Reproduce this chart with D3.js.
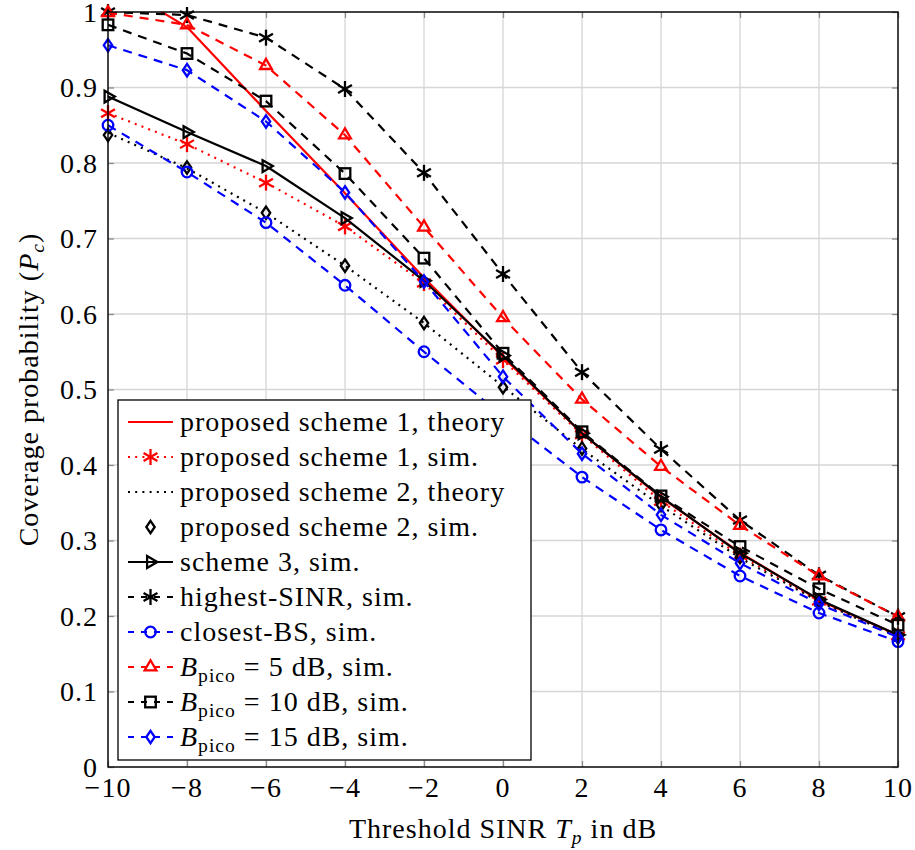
<!DOCTYPE html>
<html>
<head>
<meta charset="utf-8">
<script src="https://cdn.jsdelivr.net/npm/d3@7"></script>
<style>
  html, body { margin: 0; padding: 0; background: #fff; }
  text { font-family: "Liberation Serif", "DejaVu Serif", "Noto Serif", "Tinos", "FreeSerif", "Times", serif; }
</style>
</head>
<body>
<svg id="chart" width="915" height="850"></svg>
<script>
// ---- data ----
const xValues = [-10, -8, -6, -4, -2, 0, 2, 4, 6, 8, 10];
const xTicks = [-10, -8, -6, -4, -2, 0, 2, 4, 6, 8, 10];
const yTicks = [0, 0.1, 0.2, 0.3, 0.4, 0.5, 0.6, 0.7, 0.8, 0.9, 1];
const yTickLabels = ["0", "0.1", "0.2", "0.3", "0.4", "0.5", "0.6", "0.7", "0.8", "0.9", "1"];

const scheme1Theory = [1.043, 0.980, 0.869, 0.760, 0.648, 0.543, 0.442, 0.357, 0.284, 0.221, 0.175];
const scheme1Sim    = [0.866, 0.825, 0.774, 0.716, 0.641, 0.539, 0.440, 0.352, 0.280, 0.220, 0.174];
const scheme2Theory = [0.840, 0.793, 0.734, 0.664, 0.588, 0.504, 0.421, 0.346, 0.277, 0.219, 0.173];
const scheme2Sim    = [0.837, 0.794, 0.734, 0.664, 0.588, 0.503, 0.422, 0.347, 0.278, 0.219, 0.172];
const scheme3Sim    = [0.888, 0.841, 0.796, 0.727, 0.644, 0.545, 0.442, 0.358, 0.283, 0.222, 0.175];
const highestSinr   = [1.000, 0.996, 0.966, 0.898, 0.787, 0.653, 0.523, 0.421, 0.327, 0.254, 0.199];
const closestBs     = [0.850, 0.788, 0.721, 0.638, 0.550, 0.465, 0.384, 0.314, 0.253, 0.204, 0.166];
const bPico5        = [0.999, 0.983, 0.929, 0.837, 0.715, 0.595, 0.487, 0.398, 0.320, 0.253, 0.199];
const bPico10       = [0.983, 0.945, 0.882, 0.786, 0.674, 0.548, 0.444, 0.359, 0.292, 0.236, 0.188];
const bPico15       = [0.956, 0.923, 0.855, 0.761, 0.643, 0.517, 0.415, 0.334, 0.270, 0.216, 0.172];

const seriesNames = [
  "proposed scheme 1, theory", "proposed scheme 1, sim.", "proposed scheme 2, theory",
  "proposed scheme 2, sim.", "scheme 3, sim.", "highest-SINR, sim.", "closest-BS, sim.",
  "B|pico| = 5 dB, sim.", "B|pico| = 10 dB, sim.", "B|pico| = 15 dB, sim."
];

// ---- layout ----
const m = { left: 108, right: 898, top: 12, bottom: 767 };
const svg = d3.select("#chart");
const LS = 1.0; // letter spacing to approximate the wider original face
const x = d3.scaleLinear().domain([-10, 10]).range([m.left, m.right]);
const y = d3.scaleLinear().domain([0, 1]).range([m.bottom, m.top]);

const RED = "#ff0000", BLUE = "#0000ff", BLACK = "#000000";
const DASH = "9,7", DOT = "2,5.2";
const series = [
  { values: scheme1Theory, color: RED,   dash: null, line: true,  marker: null },
  { values: scheme1Sim,    color: RED,   dash: DOT,  line: true,  marker: "asterisk" },
  { values: scheme2Theory, color: BLACK, dash: DOT,  line: true,  marker: null },
  { values: scheme2Sim,    color: BLACK, dash: null, line: false, marker: "diamond" },
  { values: scheme3Sim,    color: BLACK, dash: null, line: true,  marker: "triright" },
  { values: highestSinr,   color: BLACK, dash: DASH, line: true,  marker: "asterisk" },
  { values: closestBs,     color: BLUE,  dash: DASH, line: true,  marker: "circle" },
  { values: bPico5,        color: RED,   dash: DASH, line: true,  marker: "triangle" },
  { values: bPico10,       color: BLACK, dash: DASH, line: true,  marker: "square" },
  { values: bPico15,       color: BLUE,  dash: DASH, line: true,  marker: "diamond" }
];

// clip
svg.append("defs").append("clipPath").attr("id", "plotclip")
  .append("rect").attr("x", m.left).attr("y", m.top)
  .attr("width", m.right - m.left).attr("height", m.bottom - m.top);

// grid
const grid = svg.append("g");
grid.selectAll("line.gx").data(xTicks).join("line")
  .attr("x1", d => x(d)).attr("x2", d => x(d)).attr("y1", m.top).attr("y2", m.bottom)
  .attr("stroke", "#d6d6d6").attr("stroke-width", 1.3);
grid.selectAll("line.gy").data(yTicks).join("line")
  .attr("y1", d => y(d)).attr("y2", d => y(d)).attr("x1", m.left).attr("x2", m.right)
  .attr("stroke", "#d6d6d6").attr("stroke-width", 1.3);

// axes with inner ticks on all sides
const tl = 6;
const axB = d3.axisBottom(x).tickValues(xTicks).tickSize(-tl).tickFormat("");
const axT = d3.axisTop(x).tickValues(xTicks).tickSize(-tl).tickFormat("");
const axL = d3.axisLeft(y).tickValues(yTicks).tickSize(-tl).tickFormat("");
const axR = d3.axisRight(y).tickValues(yTicks).tickSize(-tl).tickFormat("");
function styleAxis(g) {
  g.select(".domain").remove();
  g.selectAll(".tick line").attr("stroke", "#8c8c8c").attr("stroke-width", 1.3);
}
svg.append("g").attr("transform", `translate(0,${m.bottom})`).call(axB).call(styleAxis);
svg.append("g").attr("transform", `translate(0,${m.top})`).call(axT).call(styleAxis);
svg.append("g").attr("transform", `translate(${m.left},0)`).call(axL).call(styleAxis);
svg.append("g").attr("transform", `translate(${m.right},0)`).call(axR).call(styleAxis);

// tick labels
const FS = 28;
svg.append("g").selectAll("text").data(xTicks).join("text")
  .attr("x", d => x(d)).attr("y", 797).attr("text-anchor", "middle")
  .attr("font-size", FS).attr("letter-spacing", LS)
  .text(d => d < 0 ? "\u2212" + Math.abs(d) : String(d));
svg.append("g").selectAll("text").data(yTicks).join("text")
  .attr("x", 98).attr("y", d => y(d) + 9.5).attr("text-anchor", "end")
  .attr("font-size", FS).attr("letter-spacing", LS)
  .text((d, i) => yTickLabels[i]);

// marker drawing
function drawMarker(g, type, cx, cy, color) {
  const sw = 2.3;
  if (type === "asterisk") {
    const r = 8;
    [90, 30, 150].forEach(a => {
      const rad = a * Math.PI / 180;
      g.append("line")
        .attr("x1", cx - r * Math.cos(rad)).attr("y1", cy - r * Math.sin(rad))
        .attr("x2", cx + r * Math.cos(rad)).attr("y2", cy + r * Math.sin(rad))
        .attr("stroke", color).attr("stroke-width", sw);
    });
  } else if (type === "circle") {
    g.append("circle").attr("cx", cx).attr("cy", cy).attr("r", 5.3)
      .attr("fill", "none").attr("stroke", color).attr("stroke-width", sw);
  } else if (type === "square") {
    const s = 5.3;
    g.append("rect").attr("x", cx - s).attr("y", cy - s).attr("width", 2 * s).attr("height", 2 * s)
      .attr("fill", "none").attr("stroke", color).attr("stroke-width", sw);
  } else if (type === "diamond") {
    const w = 4.2, h = 6.2;
    g.append("path").attr("d", `M${cx},${cy - h}L${cx + w},${cy}L${cx},${cy + h}L${cx - w},${cy}Z`)
      .attr("fill", "none").attr("stroke", color).attr("stroke-width", sw);
  } else if (type === "triangle") {
    const r = 6.8;
    g.append("path").attr("d",
      `M${cx},${cy - r}L${cx + r * 0.866},${cy + r * 0.5}L${cx - r * 0.866},${cy + r * 0.5}Z`)
      .attr("fill", "none").attr("stroke", color).attr("stroke-width", sw);
  } else if (type === "triright") {
    const r = 6.8;
    g.append("path").attr("d",
      `M${cx + r},${cy}L${cx - r * 0.5},${cy + r * 0.866}L${cx - r * 0.5},${cy - r * 0.866}Z`)
      .attr("fill", "none").attr("stroke", color).attr("stroke-width", sw);
  }
}

// series
const lineGen = d3.line().x((d, i) => x(xValues[i])).y(d => y(d));
const plot = svg.append("g");
series.forEach(s => {
  const g = plot.append("g");
  if (s.line) {
    g.append("path").datum(s.values).attr("d", lineGen)
      .attr("clip-path", "url(#plotclip)")
      .attr("fill", "none").attr("stroke", s.color).attr("stroke-width", 2.2)
      .attr("stroke-dasharray", s.dash).attr("stroke-linejoin", "round");
  }
  if (s.marker) {
    s.values.forEach((v, i) => drawMarker(g, s.marker, x(xValues[i]), y(v), s.color));
  }
});

// frame
svg.append("rect").attr("x", m.left).attr("y", m.top)
  .attr("width", m.right - m.left).attr("height", m.bottom - m.top)
  .attr("fill", "none").attr("stroke", "#000").attr("stroke-width", 1.4);

// legend
const lg = svg.append("g");
const L = { x0: 118, y0: 400, x1: 531, y1: 760, base0: 431, step: 35 };
lg.append("rect").attr("x", L.x0).attr("y", L.y0).attr("width", L.x1 - L.x0).attr("height", L.y1 - L.y0)
  .attr("fill", "#fff").attr("stroke", "#000").attr("stroke-width", 1.3);
series.forEach((s, i) => {
  const base = L.base0 + i * L.step;
  const cy = base - 9;
  if (s.line) {
    lg.append("line").attr("x1", 128).attr("x2", 173).attr("y1", cy).attr("y2", cy)
      .attr("stroke", s.color).attr("stroke-width", 2.2)
      .attr("stroke-dasharray", s.dash === DASH ? "6,7" : s.dash);
  }
  if (s.marker) drawMarker(lg, s.marker, 150.5, cy, s.color);
  const t = lg.append("text").attr("x", 180).attr("y", base)
    .attr("font-size", FS).attr("letter-spacing", LS);
  const name = seriesNames[i];
  if (name.includes("|")) {
    const parts = name.split("|");
    t.append("tspan").attr("font-style", "italic").text(parts[0]);
    t.append("tspan").attr("font-size", FS * 0.7).attr("dy", 6).text(parts[1]);
    t.append("tspan").attr("dy", -6).text("\u00a0" + parts[2].trim());
  } else {
    t.text(name);
  }
});

// axis titles
const xl = svg.append("text").attr("x", 503).attr("y", 838).attr("text-anchor", "middle")
  .attr("font-size", FS).attr("letter-spacing", LS);
xl.append("tspan").text("Threshold SINR\u00a0");
xl.append("tspan").attr("font-style", "italic").text("T");
xl.append("tspan").attr("font-style", "italic").attr("font-size", FS * 0.7).attr("dy", 6).text("p");
xl.append("tspan").attr("dy", -6).text("\u00a0in dB");

const yl = svg.append("text").attr("transform", `translate(38,${(m.top + m.bottom) / 2}) rotate(-90)`)
  .attr("text-anchor", "middle").attr("font-size", FS).attr("letter-spacing", LS);
yl.append("tspan").text("Coverage probability (");
yl.append("tspan").attr("font-style", "italic").text("P");
yl.append("tspan").attr("font-style", "italic").attr("font-size", FS * 0.7).attr("dy", 6).text("c");
yl.append("tspan").attr("dy", -6).text(")");
</script>
</body>
</html>
